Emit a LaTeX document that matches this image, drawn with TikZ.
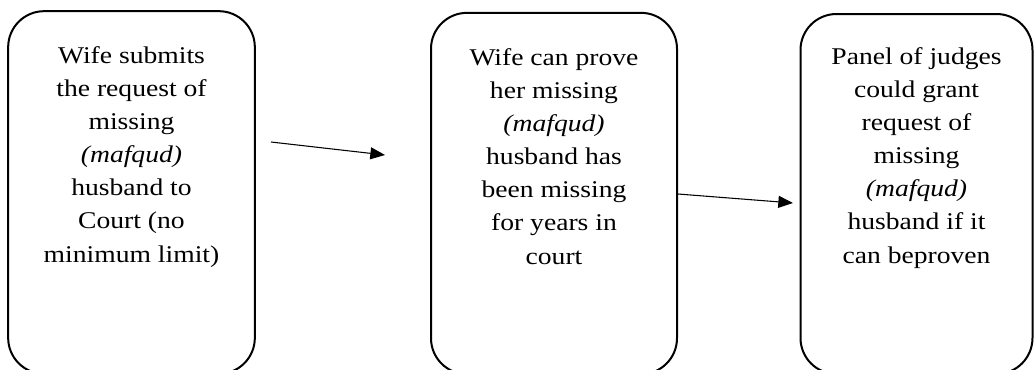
\documentclass[tikz,border=0pt]{standalone}
\usepackage{fontspec}
\setmainfont{Liberation Serif}[FakeStretch=1.15]
\usepackage{tikz}
\usetikzlibrary{arrows.meta, positioning}

\tikzset{
    stepbox/.style={draw, line width=1.5pt, rounded corners=27pt, inner sep=0pt},
    steptext/.style={align=center, anchor=base, inner sep=0pt,
        font=\fontsize{18pt}{24.8pt}\selectfont},
    flow/.style={line width=0.8pt, -{Triangle[length=11pt, width=9pt]}}
}

\begin{document}
\begin{tikzpicture}[x=0.75pt, y=-0.75pt]
            \useasboundingbox (0,0) rectangle (1036,369);
            \clip (0,0) rectangle (1036,369);
            % boxes
            \node[stepbox, minimum width=185pt, minimum height=272pt] (first) at (131.5,192.5) {};
            \node[stepbox, minimum width=184.5pt, minimum height=271pt] (second) at (554,193.5) {};
            \node[stepbox, minimum width=174pt, minimum height=270pt] (third) at (916.5,194) {};
            % texts (base = last line)
            \node[steptext] (firsttext) at (131.5,262) {Wife submits\\the request of\\missing\\\textit{(mafqud)}\\husband to\\Court (no\\minimum limit)};
            \node[steptext] (secondtext) at (554,264) {Wife can prove\\her missing\\\textit{(mafqud)}\\husband has\\been missing\\for years in\\court};
            \node[steptext] (thirdtext) at (916.5,263) {Panel of judges\\could grant\\request of\\missing\\\textit{(mafqud)}\\husband if it\\can beproven};
            % arrows
            \coordinate (a1) at (271,142);
            \coordinate (a2) at (385,155);
            \coordinate (b2) at (793,203);
            \draw[flow] (a1) -- (a2);
            \draw[flow] (second.east |- 0,194) -- (b2);
        \end{tikzpicture}
\end{document}
